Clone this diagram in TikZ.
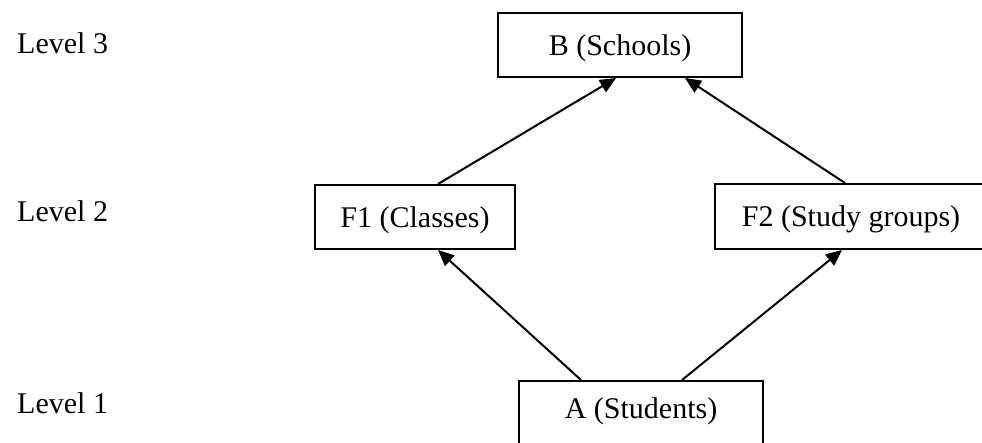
\documentclass[tikz,border=0pt]{standalone}
\usepackage{fontspec}
\setmainfont{Liberation Serif}
\usetikzlibrary{arrows.meta}
\begin{document}
\begin{tikzpicture}[x=1pt,y=-1pt,
  box/.style={draw, line width=2pt, inner sep=0pt, text height=20pt, text depth=0pt,
    font=\fontsize{30}{36}\selectfont},
  lvl/.style={anchor=base west, inner sep=0pt, font=\fontsize{30}{36}\selectfont},
  conn/.style={line width=2pt, -{Triangle[length=16pt,width=14pt]}}]
\useasboundingbox (0,0) rectangle (982,442);
\node[lvl] (l3) at (17,53) {Level 3};
\node[lvl] (l2) at (17,221) {Level 2};
\node[lvl] (l1) at (17,413) {Level 1};
\node[box, minimum width=244pt, minimum height=64pt] (B) at (620,45) {B (Schools)};
\node[box, minimum width=200pt, minimum height=64pt] (F1) at (415,217) {F1 (Classes)};
\node[box, minimum width=272pt, minimum height=65pt] (F2) at (851,216.5) {F2 (Study groups)};
\node[box, minimum width=244pt, minimum height=66pt, text depth=12pt] (A) at (641,414) {A (Students)};
\draw[conn] ([xshift=-60pt]A.north) -- ([xshift=23pt]F1.south);
\draw[conn] ([xshift=41pt]A.north) -- ([xshift=-9pt]F2.south);
\draw[conn] ([xshift=23pt]F1.north) -- ([xshift=-4pt]B.south);
\draw[conn] ([xshift=-6pt]F2.north) -- ([xshift=65pt]B.south);
\end{tikzpicture}
\end{document}
